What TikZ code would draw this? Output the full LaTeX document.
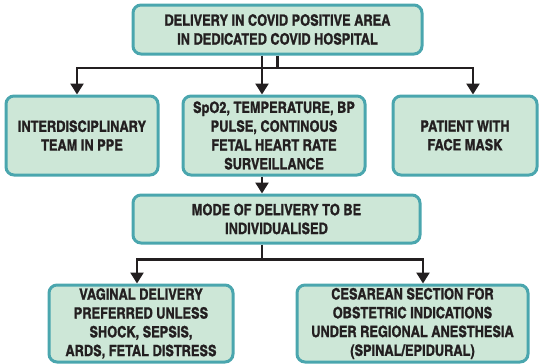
\documentclass[tikz,border=0pt]{standalone}
\usepackage{fontspec}
\setmainfont{TeX Gyre Heros Cn}[BoldFeatures={FakeBold=1.2}]
\usepackage{tikz}
\usetikzlibrary{arrows.meta, positioning, calc}
\definecolor{boxfill}{RGB}{205,231,215}
\definecolor{boxline}{RGB}{74,166,174}
\definecolor{ink}{RGB}{35,31,32}
\tikzset{
    flowbox/.style={draw=boxline, fill=boxfill, line width=3pt, rounded corners=8pt,
      align=center, text=ink, inner sep=2pt,
      font=\fontsize{15.6}{18.8}\selectfont\bfseries},
    link/.style={draw=ink, line width=2.5pt},
    linkto/.style={link, -{Triangle[width=13pt,length=11pt]}},
}
\begin{document}
\begin{tikzpicture}[x=1pt, y=-1pt]
    \useasboundingbox (0,0) rectangle (541,364);

    \node[flowbox, minimum width=289pt, minimum height=49pt] (top) at (277.5,29.5)
      {DELIVERY IN COVID POSITIVE AREA\\IN DEDICATED COVID HOSPITAL};

    \node[flowbox, minimum width=152pt, minimum height=79pt] (team) at (82,135.5)
      {INTERDISCIPLINARY\\TEAM IN PPE};
    \node[flowbox, minimum width=182pt, minimum height=79pt] (vitals) at (274,135.5)
      {SpO2, TEMPERATURE, BP\\PULSE, CONTINOUS\\FETAL HEART RATE\\SURVEILLANCE};
    \node[flowbox, minimum width=144pt, minimum height=79pt] (mask) at (465,135.5)
      {PATIENT WITH\\FACE MASK};

    \node[flowbox, minimum width=287pt, minimum height=48pt] (mode) at (276.5,219)
      {MODE OF DELIVERY TO BE\\INDIVIDUALISED};

    \node[flowbox, minimum width=184pt, minimum height=77pt] (vaginal) at (141,323.5)
      {VAGINAL DELIVERY\\PREFERRED UNLESS\\SHOCK, SEPSIS,\\ARDS, FETAL DISTRESS};
    \node[flowbox, minimum width=231pt, minimum height=77pt] (cesarean) at (412.5,323.5)
      {CESAREAN SECTION FOR\\OBSTETRIC INDICATIONS\\UNDER REGIONAL ANESTHESIA\\(SPINAL/EPIDURAL)};

    % split below the top box
    \coordinate (hubA) at (277.5,68);
    \draw[link] (top) -- (hubA);
    \draw[linkto] (hubA) -| ([xshift=-5pt]team.north);
    \draw[linkto] (hubA) -| ([xshift=8pt]mask.north);
    \draw[linkto] ([xshift=-15.5pt]top.south) -- ([xshift=-12pt]vitals.north);

    \draw[linkto] ([xshift=-12pt]vitals.south) -- ([xshift=-14.5pt]mode.north);

    % split below the mode box
    \draw[link] ([xshift=-14.5pt]mode.south) -- ++(0,15) coordinate (hubB);
    \draw[linkto] (hubB) -| ([xshift=-4pt]vaginal.north);
    \draw[linkto] (hubB) -| ([xshift=10.5pt]cesarean.north);
\end{tikzpicture}
\end{document}
